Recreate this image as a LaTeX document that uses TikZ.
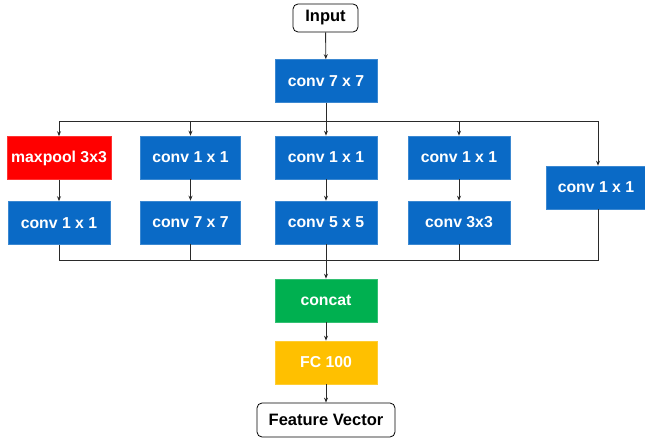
\documentclass[tikz,border=0pt]{standalone}
\usepackage{fontspec}
\setmainfont{Liberation Sans}
\usetikzlibrary{arrows.meta}
\definecolor{convblue}{HTML}{0A6AC6}
\definecolor{poolred}{HTML}{FF0000}
\definecolor{catgreen}{HTML}{00B050}
\definecolor{fcyellow}{HTML}{FFC000}
\definecolor{wire}{HTML}{2A2A2A}
\tikzset{
  layer/.style={minimum width=102pt, minimum height=43pt, inner sep=0pt,
    text=white, font=\bfseries\fontsize{15.8}{18}\selectfont, draw=#1!80!white, fill=#1, line width=0.6pt},
  io/.style={draw=black, rounded corners=5pt, fill=white, inner sep=0pt,
    font=\bfseries\fontsize{16.5}{19}\selectfont, line width=0.8pt},
  link/.style={draw=wire, line width=0.9pt},
  arr/.style={link, -{Stealth[length=5pt,width=4pt]}}
}
\begin{document}
\begin{tikzpicture}[x=1pt, y=-1pt]
\useasboundingbox (0,0) rectangle (645,441);

\node[io, minimum width=65pt, minimum height=28pt] (input) at (325.5,18) {Input};
\node[layer=convblue] (stem) at (326,81) {conv 7 x 7};

\node[layer=poolred, minimum width=104pt] (pool) at (59,158) {maxpool 3x3};
\node[layer=convblue] (pconv) at (59,223) {conv 1 x 1};

\node[layer=convblue, minimum width=100pt] (aone) at (190.5,157.5) {conv 1 x 1};
\node[layer=convblue, minimum width=100pt] (aseven) at (190.5,222.5) {conv 7 x 7};

\node[layer=convblue] (bone) at (326,157.5) {conv 1 x 1};
\node[layer=convblue] (bfive) at (326,222.5) {conv 5 x 5};

\node[layer=convblue] (cone) at (459,157.5) {conv 1 x 1};
\node[layer=convblue] (cthree) at (459,222.5) {conv 3x3};

\node[layer=convblue, minimum width=99pt] (done) at (596,187.5) {conv 1 x 1};

\node[layer=catgreen] (concat) at (326,300.5) {concat};
\node[layer=fcyellow] (fc) at (326,362.5) {FC 100};
\node[io, minimum width=138pt, minimum height=34pt] (feat) at (326,420) {Feature Vector};

\coordinate (split) at (326,121);
\coordinate (merge) at (326,260);

% input and stem
\draw[arr] (input) -- (stem);
\draw[link] (stem) -- (split);

% fan-out bus
\draw[arr] (split) -| (pool.north);
\draw[arr] (split) -| (aone.north);
\draw[arr] (split) -- (bone.north);
\draw[arr] (split) -| (cone.north);
\draw[arr] (split) -| ([xshift=2pt]done.north);

% inside each branch
\draw[arr] (pool) -- (pconv);
\draw[arr] (aone) -- (aseven);
\draw[arr] (bone) -- (bfive);
\draw[arr] (cone) -- (cthree);

% fan-in bus
\draw[link] (pconv.south) |- (merge);
\draw[link] (aseven.south) |- (merge);
\draw[link] (bfive.south) -- (merge);
\draw[link] (cthree.south) |- (merge);
\draw[link] ([xshift=2pt]done.south) |- (merge);

% head
\draw[arr] (merge) -- (concat);
\draw[arr] (concat) -- (fc);
\draw[arr] (fc) -- (feat);
\end{tikzpicture}
\end{document}
